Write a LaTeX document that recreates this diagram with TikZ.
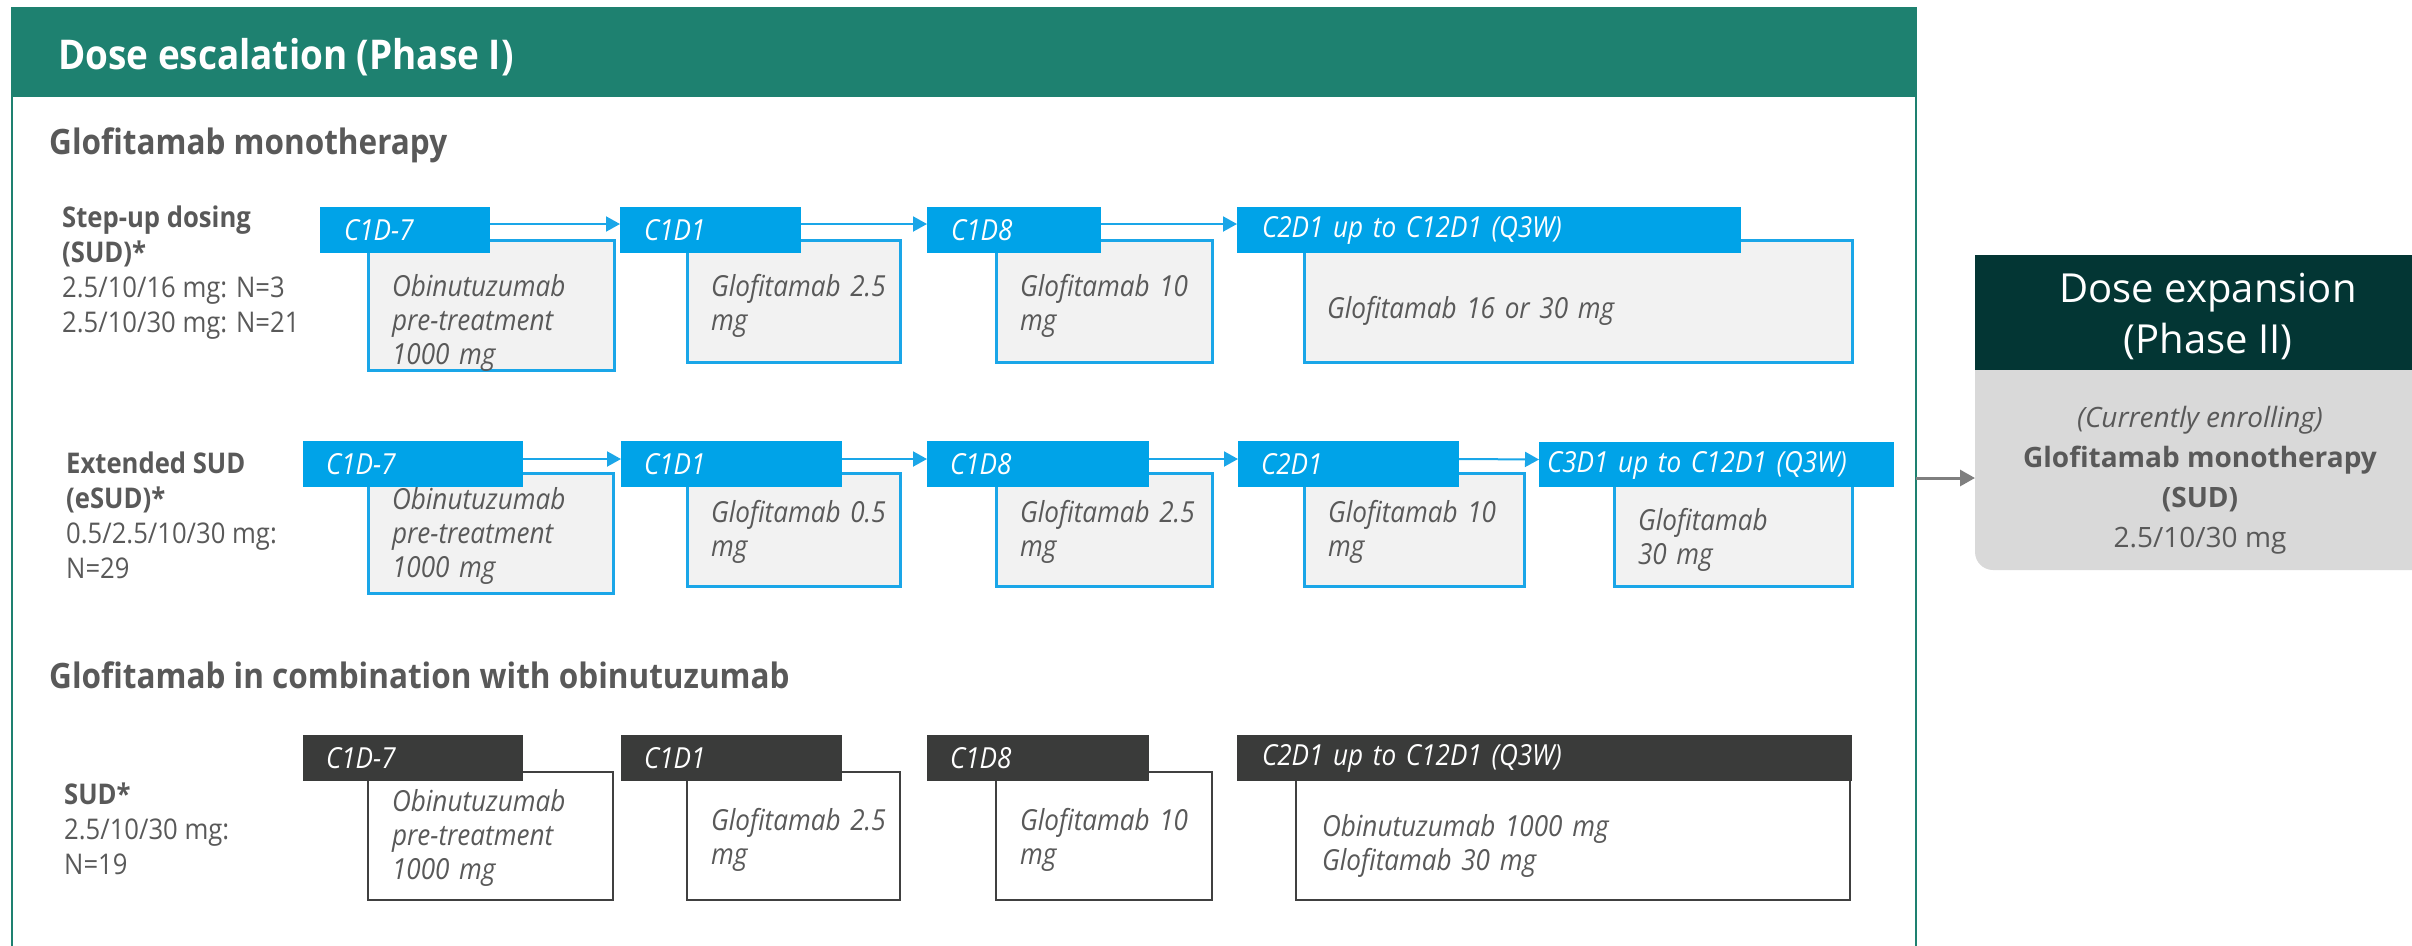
\documentclass[tikz,border=0pt]{standalone}
\usepackage{fontspec}
\setmainfont{Open Sans}
\newfontfamily\cf[FakeStretch=0.9]{Open Sans}
\usetikzlibrary{arrows.meta}
\definecolor{escgreen}{HTML}{1E8170}
\definecolor{blu}{HTML}{00A3E8}
\definecolor{bluline}{HTML}{1AA6E8}
\definecolor{bodyfill}{HTML}{F2F2F2}
\definecolor{dk}{HTML}{3A3B3A}
\definecolor{dkline}{HTML}{404040}
\definecolor{txt}{HTML}{595959}
\definecolor{expdark}{HTML}{033634}
\definecolor{expgray}{HTML}{D9D9D9}
\definecolor{arrgray}{HTML}{7F7F7F}
\tikzset{
  bluehdr/.style={fill=blu, text=white, font=\cf\itshape\fontsize{29}{34}\selectfont},
  bluebody/.style={fill=bodyfill, draw=bluline, line width=3pt, text=txt, font=\cf\itshape\fontsize{29}{34}\selectfont},
  dkhdr/.style={fill=dk, text=white, font=\cf\itshape\fontsize{29}{34}\selectfont},
  dkbody/.style={fill=white, draw=dkline, line width=2.5pt, text=txt, font=\cf\itshape\fontsize{29}{34}\selectfont},
  barrow/.style={draw=bluline, line width=2pt, -{Triangle[length=14pt,width=15pt]}},
  garrow/.style={draw=arrgray, line width=3pt, -{Triangle[length=15pt,width=16pt]}},
  rowlab/.style={anchor=west, inner sep=0pt, align=left, text=txt, font=\cf\fontsize{28.5}{35}\selectfont},
  heading/.style={anchor=west, inner sep=0pt, text=txt, font=\cf\bfseries\fontsize{35}{40}\selectfont},
}
% #1 style, #2 name, #3 x1, #4 y1, #5 x2, #6 y2, #7 side inset, #8 text shift down, #9 text
\newcommand\stagebox[9]{%
  \pgfmathsetmacro\sbw{#5-#3}%
  \pgfmathsetmacro\sbh{#6-#4}%
  \pgfmathsetmacro\sbt{#5-#3-2*#7}%
  \pgfmathsetmacro\sbv{22+2*#8}%
  \node[#1, anchor=north west, inner xsep=#7pt, inner ysep=0pt, outer sep=0pt,
        minimum width=\sbw pt, minimum height=\sbh pt, text width=\sbt pt, align=left] (#2) at (#3,#4) {\rule{0pt}{\sbv pt}#9};}
\begin{document}
\begin{tikzpicture}[x=1pt, y=-1pt]
\useasboundingbox (0,0) rectangle (2412,945);
\clip (0,0) rectangle (2412,945);
% main frame
\node[draw=escgreen, line width=2.5pt, anchor=north west, inner sep=0pt, outer sep=0pt,
      minimum width=1904pt, minimum height=1100pt] (esc) at (12,8) {};
\node[fill=escgreen, anchor=north west, inner sep=0pt, outer sep=0pt,
      minimum width=1904pt, minimum height=89pt] (eschdr) at (12,8) {};
\node[anchor=west, inner sep=0pt, text=white, font=\cf\bfseries\fontsize{41}{46}\selectfont]
      (title) at (58,57) {Dose escalation (Phase I)};
% headings
\node[heading] (mono) at (49,145) {Glofitamab monotherapy};
\node[heading] (combo) at (49,675) {Glofitamab in combination with obinutuzumab};
% row labels
\node[rowlab] (r1lab) at (62,273) {\textbf{Step-up dosing}\\\textbf{(SUD)*}\\2.5/10/16 mg: N=3\\2.5/10/30 mg: N=21};
\node[rowlab] (r2lab) at (66,515) {\textbf{Extended SUD}\\\textbf{(eSUD)*}\\0.5/2.5/10/30 mg:\\N=29};
\node[rowlab] (r3lab) at (64,829) {\textbf{SUD*}\\2.5/10/30 mg:\\N=19};
% row 1
\stagebox{bluebody}{r1b1}{368}{240}{614}{362}{24}{17}{Obinutuzumab\\pre-treatment\\1000~mg}
\stagebox{bluebody}{r1b2}{687}{240}{900}{362}{24}{5}{Glofitamab~2.5\\mg}
\stagebox{bluebody}{r1b3}{996}{240}{1212}{362}{24}{5}{Glofitamab~10\\mg}
\stagebox{bluebody}{r1b4}{1304}{240}{1852}{362}{23}{10}{Glofitamab~16~or~30~mg}
\stagebox{bluehdr}{r1h1}{320}{207}{490}{253}{24}{0}{C1D-7}
\stagebox{bluehdr}{r1h2}{620}{207}{801}{253}{24}{0}{C1D1}
\stagebox{bluehdr}{r1h3}{927}{207}{1101}{253}{24}{0}{C1D8}
\stagebox{bluehdr}{r1h4}{1237}{207}{1741}{253}{25}{0}{C2D1~up~to~C12D1~(Q3W)}
\draw[barrow] ([yshift=6pt]r1h1.east) -- ([yshift=6pt]r1h2.west);
\draw[barrow] ([yshift=6pt]r1h2.east) -- ([yshift=6pt]r1h3.west);
\draw[barrow] ([yshift=6pt]r1h3.east) -- ([yshift=6pt]r1h4.west);
% row 2
\stagebox{bluebody}{r2b1}{368}{473}{613}{593}{24}{3}{Obinutuzumab\\pre-treatment\\1000~mg}
\stagebox{bluebody}{r2b2}{687}{473}{900}{586}{24}{2}{Glofitamab~0.5\\mg}
\stagebox{bluebody}{r2b3}{996}{473}{1212}{586}{24}{2}{Glofitamab~2.5\\mg}
\stagebox{bluebody}{r2b4}{1304}{473}{1524}{586}{24}{2}{Glofitamab~10\\mg}
\stagebox{bluebody}{r2b5}{1614}{473}{1852}{586}{24}{10}{Glofitamab\\30~mg}
\stagebox{bluehdr}{r2h1}{303}{441}{523}{487}{23}{0}{C1D-7}
\stagebox{bluehdr}{r2h2}{621}{441}{842}{487}{23}{0}{C1D1}
\stagebox{bluehdr}{r2h3}{927}{441}{1149}{487}{23}{0}{C1D8}
\stagebox{bluehdr}{r2h4}{1238}{441}{1459}{487}{23}{0}{C2D1}
\stagebox{bluehdr}{r2h5}{1539}{442}{1894}{487}{8}{0}{C3D1~up~to~C12D1~(Q3W)}
\draw[barrow] ([yshift=5pt]r2h1.east) -- ([yshift=5pt]r2h2.west);
\draw[barrow] ([yshift=5pt]r2h2.east) -- ([yshift=5pt]r2h3.west);
\draw[barrow] ([yshift=5pt]r2h3.east) -- ([yshift=5pt]r2h4.west);
\draw[barrow] ([yshift=5pt]r2h4.east) -- ([yshift=5pt]r2h5.west);
% row 3
\stagebox{dkbody}{r3b1}{368}{772}{613}{900}{24}{2}{Obinutuzumab\\pre-treatment\\1000~mg}
\stagebox{dkbody}{r3b2}{687}{772}{900}{900}{24}{4}{Glofitamab~2.5\\mg}
\stagebox{dkbody}{r3b3}{996}{772}{1212}{900}{24}{4}{Glofitamab~10\\mg}
\stagebox{dkbody}{r3b4}{1296}{772}{1850}{900}{26}{10}{Obinutuzumab~1000~mg\\Glofitamab~30~mg}
\stagebox{dkhdr}{r3h1}{303}{735}{523}{781}{23}{0}{C1D-7}
\stagebox{dkhdr}{r3h2}{621}{735}{842}{781}{23}{0}{C1D1}
\stagebox{dkhdr}{r3h3}{927}{735}{1149}{781}{23}{0}{C1D8}
\stagebox{dkhdr}{r3h4}{1237}{735}{1852}{781}{25}{0}{C2D1~up~to~C12D1~(Q3W)}
% dose expansion
\node[fill=expgray, rounded corners=18pt, anchor=north west, inner sep=0pt, outer sep=0pt,
      minimum width=465pt, minimum height=315pt] (expbody) at (1975,255) {};
\node[fill=expdark, anchor=north west, inner sep=0pt, outer sep=0pt,
      minimum width=465pt, minimum height=115pt] (exphdr) at (1975,255) {};
\node[align=center, text=white, inner sep=0pt, font=\fontsize{40}{51}\selectfont]
      (exptitle) at (2208,316) {Dose expansion\\(Phase II)};
\node[align=center, text=txt, inner sep=0pt, font=\fontsize{28}{40}\selectfont] (exptext) at (2200,480)
  {\textit{(Currently enrolling)}\\\textbf{Glofitamab monotherapy}\\\textbf{(SUD)}\\2.5/10/30 mg};
\coordinate (arrs) at (1916,478);
\draw[garrow] (arrs) -- (arrs -| expbody.west);
\end{tikzpicture}
\end{document}
